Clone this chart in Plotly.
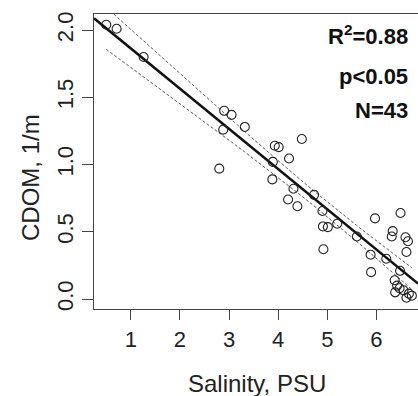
import numpy as np
import plotly.graph_objects as go

# Data
salinity = [0.50, 0.71, 1.26, 2.90, 3.05, 2.88, 2.80, 3.32, 3.93, 4.01,
            4.48, 4.22, 3.89, 3.88, 4.31, 4.20, 4.39, 4.73, 4.90, 4.91,
            5.01, 5.20, 4.92, 5.60, 5.97, 6.49, 6.33, 6.31, 6.59, 6.64,
            6.61, 5.88, 6.20, 5.89, 6.48, 6.37, 6.47, 6.38, 6.55, 6.61,
            6.72, 6.66, 6.42]
cdom = [2.04, 2.01, 1.80, 1.40, 1.37, 1.26, 0.97, 1.28, 1.14, 1.13,
        1.19, 1.045, 1.02, 0.89, 0.82, 0.74, 0.69, 0.775, 0.655, 0.54,
        0.535, 0.56, 0.37, 0.465, 0.60, 0.64, 0.505, 0.465, 0.46, 0.43,
        0.35, 0.33, 0.30, 0.20, 0.21, 0.14, 0.08, 0.05, 0.065, 0.01,
        0.025, 0.04, 0.10]
x_ticks = [1, 2, 3, 4, 5, 6]
y_ticks = [0.0, 0.5, 1.0, 1.5, 2.0]
stats_labels = ["R<sup>2</sup>=0.88", "p<0.05", "N=43"]
x_title = "Salinity, PSU"
y_title = "CDOM, 1/m"

# Linear fit and 95% confidence band, computed from the data
x = np.array(salinity)
y = np.array(cdom)
n = len(x)
slope, intercept = np.polyfit(x, y, 1)
resid = y - (intercept + slope * x)
s = np.sqrt(np.sum(resid ** 2) / (n - 2))
xbar = x.mean()
sxx = np.sum((x - xbar) ** 2)
t_crit = 2.0195  # t(0.975, df=41)
xs = np.sort(np.unique(x))
half = t_crit * s * np.sqrt(1.0 / n + (xs - xbar) ** 2 / sxx)
fit_s = intercept + slope * xs

x_range = [0.25, 6.845]
y_range = [-0.074, 2.12]
xl = np.array(x_range)

FONT = "Liberation Sans, Arial, sans-serif"
INK = "#222222"

fig = go.Figure()
fig.add_trace(go.Scatter(x=xs, y=fit_s + half, mode="lines",
                         line=dict(color="#555555", width=1, dash="3px,2px"),
                         hoverinfo="skip"))
fig.add_trace(go.Scatter(x=xs, y=fit_s - half, mode="lines",
                         line=dict(color="#555555", width=1, dash="3px,2px"),
                         hoverinfo="skip"))
fig.add_trace(go.Scatter(x=xl, y=intercept + slope * xl, mode="lines",
                         line=dict(color="#111111", width=2.5)))
fig.add_trace(go.Scatter(x=salinity, y=cdom, mode="markers",
                         marker=dict(symbol="circle-open", size=9, color=INK,
                                     line=dict(color=INK, width=1.1))))

for lbl, yy in zip(stats_labels, [35, 77, 110]):
    fig.add_annotation(text="<b>%s</b>" % lbl, xref="paper", yref="paper",
                       x=(410 - 94) / 324, y=1 - (yy - 14) / 295,
                       xanchor="right", yanchor="middle", showarrow=False,
                       font=dict(family=FONT, size=22, color="#111111"))

fig.add_annotation(text=x_title, xref="paper", yref="paper",
                   x=(257 - 94) / 324, y=-(383 - 309) / 295,
                   xanchor="center", yanchor="middle", showarrow=False,
                   font=dict(family=FONT, size=24, color=INK))
fig.add_annotation(text=y_title, xref="paper", yref="paper",
                   x=-(94 - 30) / 324, y=1 - (178 - 14) / 295,
                   xanchor="center", yanchor="middle", showarrow=False,
                   textangle=-90,
                   font=dict(family=FONT, size=24, color=INK))

fig.update_layout(
    width=418, height=396,
    margin=dict(l=94, r=0, t=14, b=87, autoexpand=False),
    paper_bgcolor="white", plot_bgcolor="white",
    showlegend=False,
    font=dict(family=FONT, color=INK),
    xaxis=dict(range=x_range, tickvals=x_ticks, ticks="outside", ticklen=10,
               tickwidth=1.2, tickcolor="#444444", showline=True,
               linecolor="#444444", linewidth=1.3, mirror=True,
               showgrid=False, zeroline=False,
               tickfont=dict(family=FONT, size=22, color=INK)),
    yaxis=dict(range=y_range, tickvals=y_ticks, tickformat=".1f",
               ticks="outside", ticklen=11, tickwidth=1.2,
               tickcolor="#444444", showline=True, linecolor="#444444",
               linewidth=1.3, mirror=False, showgrid=False, zeroline=False,
               tickangle=-90,
               tickfont=dict(family=FONT, size=22, color=INK)),
)

fig.write_html("out.html",
               config={"displayModeBar": False},
               post_script="document.body.style.margin='0';"
                           "document.body.style.overflow='hidden';")
